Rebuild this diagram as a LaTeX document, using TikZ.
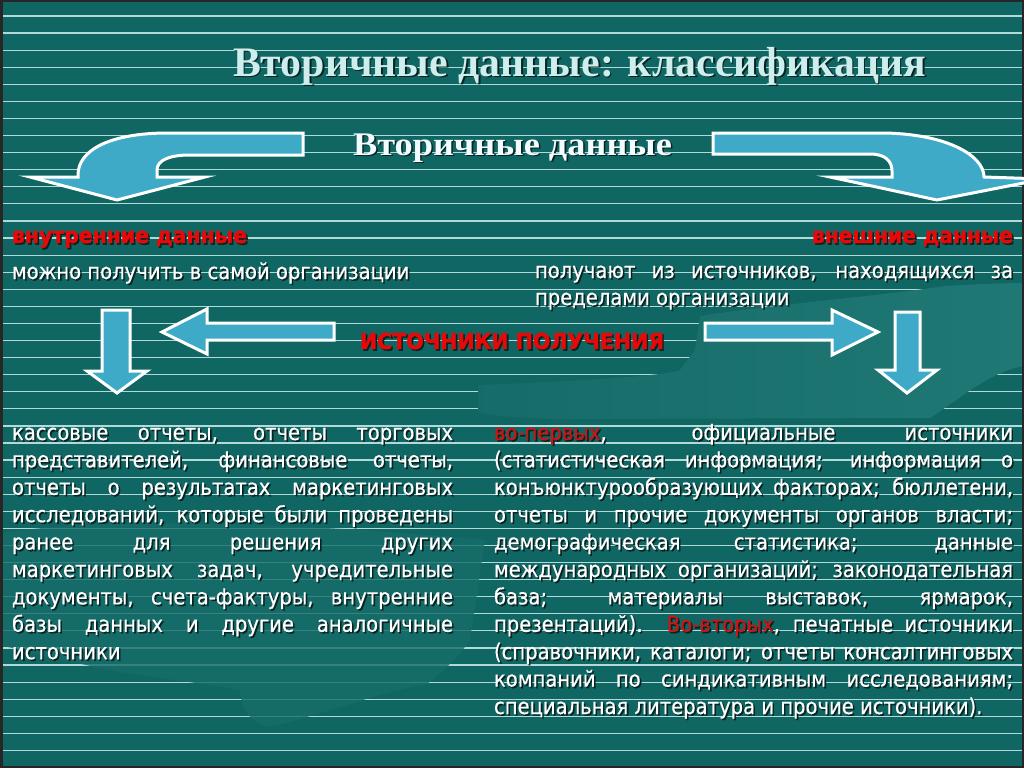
\documentclass[tikz,border=0pt]{standalone}
\usepackage{fontspec}
\usepackage{graphicx}
\setmainfont{DejaVu Sans}
\newfontfamily\bodyfont{DejaVu Sans}[FakeStretch=0.89, FakeBold=0.4]
\newfontfamily\labfont{DejaVu Sans}[BoldFeatures={FakeBold=1.6}]
\newfontfamily\serfont{Liberation Serif}
\definecolor{bgc}{RGB}{16,102,99}
\definecolor{swc}{RGB}{32,120,116}
\definecolor{swc2}{RGB}{22,109,105}
\definecolor{linec}{RGB}{178,218,216}
\definecolor{arrc}{RGB}{62,170,200}
\definecolor{redc}{RGB}{232,8,8}
\definecolor{hlred}{RGB}{205,20,20}
\definecolor{titc}{RGB}{205,238,236}
\definecolor{shadowc}{RGB}{8,36,34}
\colorlet{hlc}{hlred}
\newcommand\hl[1]{\textcolor{hlc}{#1}}
\tikzset{
  bgline/.style={draw=linec, line width=1.2pt},
  blockarrow/.style={fill=arrc, draw=white, line width=3pt, line join=miter},
  shadowed/.style={text=shadowc, shift={(1.6,1.6)}, execute at begin node={\colorlet{hlc}{shadowc}}},
  body/.style={anchor=base west, inner sep=0pt, outer sep=0pt, text=white, font=\bodyfont\fontsize{22}{26}\selectfont},
  redlab/.style={anchor=base west, inner sep=0pt, outer sep=0pt, text=redc, font=\labfont\bfseries\fontsize{22}{26}\selectfont},
  titlab/.style={anchor=base west, inner sep=0pt, outer sep=0pt, text=titc, font=\serfont\bfseries\fontsize{42}{46}\selectfont},
  sublab/.style={anchor=base west, inner sep=0pt, outer sep=0pt, text=white!95!cyan, font=\serfont\bfseries\fontsize{33}{36}\selectfont},
}
% shadowed text node: options, name, coordinate, text
\newcommand\tnode[4]{\node[#1,shadowed] at #3 {#4};\node[#1] (#2) at #3 {#4};}
% justified body line: name, x, y, width, text
\newcommand\jline[5]{\tnode{body}{#1}{(#2,#3)}{\makebox[#4pt][s]{#5}}}
\begin{document}
\begin{tikzpicture}[x=1pt,y=-1pt]
\useasboundingbox (0,0) rectangle (1024,768);
\fill[bgc] (0,0) rectangle (1024,768);
% ruled background
\foreach \k in {0,...,43} \draw[bgline] (0,16+17.08*\k) -- (1024,16+17.08*\k);
% light swooshes of the background
\shade[left color=bgc!70!swc, right color=swc] (945,286) .. controls (980,284) and (1005,283) .. (1024,283) -- (1024,366)
  .. controls (990,372) and (965,395) .. (930,418) -- (560,419)
  .. controls (520,418) and (490,416) .. (478,412) -- (478,385)
  .. controls (600,380) and (670,375) .. (680,370) -- (695,350) -- (700,316)
  .. controls (760,306) and (880,296) .. (945,286) -- cycle;
\path[fill=swc2, opacity=0.8] (0,533) .. controls (120,515) and (330,525) .. (485,540)
  -- (470,640) .. controls (455,662) and (435,678) .. (427,684)
  .. controls (380,692) and (330,712) .. (270,727)
  .. controls (250,722) and (242,712) .. (240,690)
  .. controls (180,680) and (130,674) .. (120,672)
  .. controls (60,660) and (20,650) .. (0,645) -- cycle;
% frame
\draw[black!85, line width=2.5pt] (1.25,1.25) rectangle (1022.75,766.75);
% curved block arrows
\path[blockarrow] (303,133) -- (168,133) .. controls (110,133) and (78,150) .. (78,175)
  -- (78,177) -- (30,177) -- (117,200) -- (205,177) -- (157,177) -- (157,170)
  .. controls (157,160) and (170,155) .. (190,155) -- (303,155) -- cycle;
\path[blockarrow] (713,133) -- (880,133) .. controls (945,133) and (984,155) .. (984,177)
  -- (1044,179) -- (937,200) -- (830,177) -- (892,177) -- (892,171)
  .. controls (892,161) and (885,154) .. (870,154) -- (713,154) -- cycle;
% straight block arrows
\path[blockarrow] (102,310) -- (130,310) -- (130,371) -- (147,371) -- (117,393) -- (87,371) -- (102,371) -- cycle;
\path[blockarrow] (334,323) -- (334,340) -- (207,340) -- (207,354) -- (162,332) -- (207,309) -- (207,323) -- cycle;
\path[blockarrow] (705,323) -- (832,323) -- (832,310) -- (878,332) -- (832,355) -- (832,340) -- (705,340) -- cycle;
\path[blockarrow] (895,312) -- (920,312) -- (920,370) -- (937,370) -- (907,393) -- (878,370) -- (895,370) -- cycle;
% headings
\tnode{titlab}{title}{(233,76)}{\resizebox{693pt}{\height}{Вторичные данные: классификация}}
\tnode{sublab}{sub}{(353,155)}{\resizebox{319pt}{\height}{Вторичные данные}}
\tnode{redlab}{inner}{(12,243)}{\resizebox{235pt}{\height}{внутренние данные}}
\tnode{redlab}{outer}{(812,243)}{\resizebox{201pt}{\height}{внешние данные}}
\tnode{redlab}{src}{(360,349)}{\resizebox{304pt}{\height}{ИСТОЧНИКИ ПОЛУЧЕНИЯ}}
% descriptions
\tnode{body}{inndesc}{(12,279)}{можно получить в самой организации}
\jline{outdesc1}{535}{278}{478}{получают из источников, находящихся за}
\tnode{body}{outdesc2}{(535,305)}{пределами организации}
% left column
\jline{l1}{12}{440}{441}{кассовые отчеты, отчеты торговых}
\jline{l2}{12}{467.4}{441}{представителей, финансовые отчеты,}
\jline{l3}{12}{494.8}{441}{отчеты о результатах маркетинговых}
\jline{l4}{12}{522.2}{441}{исследований, которые были проведены}
\jline{l5}{12}{549.6}{441}{ранее для решения других}
\jline{l6}{12}{577}{441}{маркетинговых задач, учредительные}
\jline{l7}{12}{604.4}{441}{документы, счета-фактуры, внутренние}
\jline{l8}{12}{631.8}{441}{базы данных и другие аналогичные}
\tnode{body}{l9}{(12,659.2)}{источники}
% right column
\jline{r1}{494}{440}{519}{\hl{во-первых}, официальные источники}
\jline{r2}{494}{467.4}{519}{(статистическая информация; информация о}
\jline{r3}{494}{494.8}{519}{конъюнктурообразующих факторах; бюллетени,}
\jline{r4}{494}{522.2}{519}{отчеты и прочие документы органов власти;}
\jline{r5}{494}{549.6}{519}{демографическая статистика; данные}
\jline{r6}{494}{577}{519}{международных организаций; законодательная}
\jline{r7}{494}{604.4}{519}{база; материалы выставок, ярмарок,}
\jline{r8}{494}{631.8}{519}{презентаций). \hl{Во-вторых}, печатные источники}
\jline{r9}{494}{659.2}{519}{(справочники, каталоги; отчеты консалтинговых}
\jline{r10}{494}{686.6}{519}{компаний по синдикативным исследованиям;}
\tnode{body}{r11}{(494,714)}{специальная литература и прочие источники).}
\end{tikzpicture}
\end{document}
